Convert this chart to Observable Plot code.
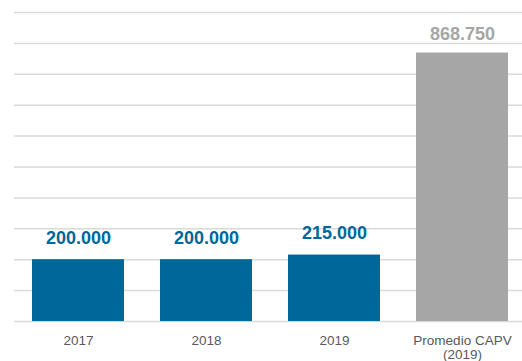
<!DOCTYPE html>
<html><head><meta charset="utf-8">
<script src="https://cdn.jsdelivr.net/npm/d3@7"></script>
<script src="https://cdn.jsdelivr.net/npm/@observablehq/plot@0.6"></script>
<style>
body{margin:0;background:#fff;}
#chart svg{display:block;}
</style>
</head><body><div id="chart"></div>
<script>
const categories = ["2017", "2018", "2019", "Promedio CAPV\n(2019)"];
const values = [200000, 200000, 215000, 868750];
const kinds = ["own", "own", "own", "avg"];
const gridTicks = [0, 100000, 200000, 300000, 400000, 500000, 600000, 700000, 800000, 900000, 1000000];

const data = categories.map((c, i) => ({cat: c, value: values[i], kind: kinds[i]}));
const fmt = v => d3.format(",")(v).replace(/,/g, ".");
const colors = {own: "#00679B", avg: "#A6A6A6"};

const chart = Plot.plot({
  width: 522,
  height: 361,
  marginLeft: 14,
  marginRight: 0,
  marginTop: 12,
  marginBottom: 40,
  style: {fontFamily: "'Liberation Sans', Arial, sans-serif", background: "#fff"},
  x: {domain: categories, range: [14, 527], paddingInner: 0.28, paddingOuter: 0.14, label: null},
  y: {domain: [0, 1000000], label: null, axis: null},
  marks: [
    Plot.ruleY(gridTicks, {stroke: "#d9d9d9", strokeWidth: 1.5}),
    Plot.barY(data, {x: "cat", y: "value", fill: d => colors[d.kind]}),
    Plot.text(data.filter(d => d.kind === "own"), {x: "cat", y: "value", text: d => fmt(d.value), fill: colors.own, fontSize: 18, fontWeight: "bold", lineAnchor: "bottom", dy: -16}),
    Plot.text(data.filter(d => d.kind === "avg"), {x: "cat", y: "value", text: d => fmt(d.value), fill: colors.avg, fontSize: 18, fontWeight: "bold", lineAnchor: "bottom", dy: -13}),
    Plot.axisX({tickSize: 0, tickPadding: 13, fontSize: 13.5, color: "#595959", lineHeight: 1.05, label: null})
  ]
});
document.getElementById("chart").append(chart);
</script>
</body></html>
